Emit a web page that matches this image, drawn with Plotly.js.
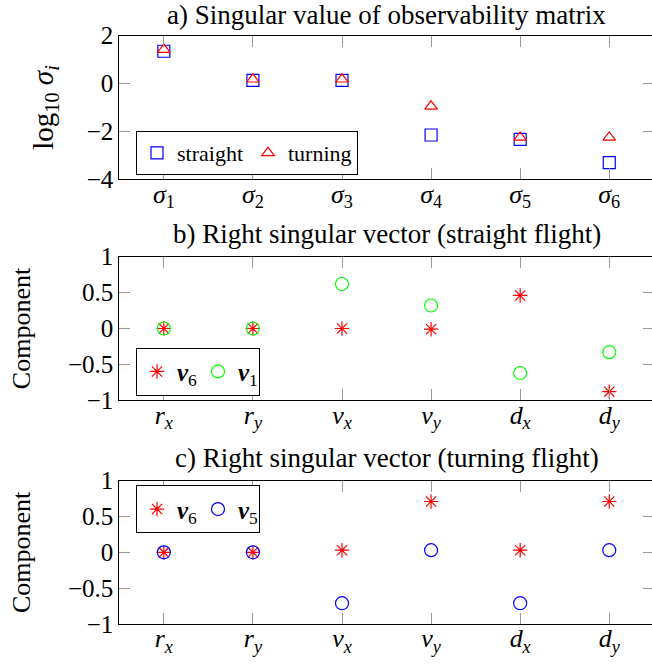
<!DOCTYPE html>
<html>
<head>
<meta charset="utf-8">
<script src="https://cdn.plot.ly/plotly-3.0.1.min.js"></script>
<style>
html,body{margin:0;padding:0;overflow:hidden;background:#fff;}
#chart{width:660px;height:664px;}
</style>
</head>
<body>
<div id="chart"></div>
<script>
// ---- data ----
var sigmaLabels = ['<i>σ</i><sub>1</sub>','<i>σ</i><sub>2</sub>','<i>σ</i><sub>3</sub>','<i>σ</i><sub>4</sub>','<i>σ</i><sub>5</sub>','<i>σ</i><sub>6</sub>'];
var logSigmaStraight = [1.35, 0.13, 0.13, -2.15, -2.33, -3.3];
var logSigmaTurning  = [1.42, 0.18, 0.18, -0.95, -2.25, -2.25];

var stateLabels = ['<i>r</i><sub><i>x</i></sub>','<i>r</i><sub><i>y</i></sub>','<i>v</i><sub><i>x</i></sub>','<i>v</i><sub><i>y</i></sub>','<i>d</i><sub><i>x</i></sub>','<i>d</i><sub><i>y</i></sub>'];
var straightV6 = [0, 0, 0, -0.01, 0.46, -0.88];
var straightV1 = [0, 0, 0.62, 0.32, -0.62, -0.33];
var turningV6  = [0, 0, 0.03, 0.71, 0.03, 0.71];
var turningV5  = [0, 0, -0.71, 0.03, -0.71, 0.03];

// ---- style ----
var W = 660, H = 664;
var FONT = 'Liberation Serif';
var xDom = [119.3 / W, 653.8 / W];
function yd(top, bottom) { return [1 - bottom / H, 1 - top / H]; }

function xAxis(anchor) {
  return {
    domain: xDom, anchor: anchor, type: 'category',
    range: [-0.5, 5.5], showgrid: false, zeroline: false,
    showline: true, linecolor: '#000', linewidth: 1, mirror: 'ticks',
    ticks: 'inside', ticklen: 11, tickcolor: '#999', tickwidth: 1,
    tickfont: {family: FONT, size: 26, color: '#000'},
    ticklabelstandoff: -9,
    automargin: false
  };
}
function yAxis(anchor, dom, range, dtick, title, tsize, standoff) {
  return {
    domain: dom, anchor: anchor, range: range, dtick: dtick, tick0: 0,
    showgrid: false, zeroline: false,
    showline: true, linecolor: '#000', linewidth: 1, mirror: 'ticks',
    ticks: 'inside', ticklen: 11, tickcolor: '#999', tickwidth: 1,
    tickfont: {family: FONT, size: 25, color: '#000'},
    title: {text: title, font: {family: FONT, size: tsize, color: '#000'}, standoff: standoff},
    automargin: false
  };
}

var traces = [
  {x: sigmaLabels, y: logSigmaStraight, xaxis: 'x', yaxis: 'y', type: 'scatter', mode: 'markers', name: 'straight',
   legend: 'legend', marker: {symbol: 'square-open', size: 12, color: '#0000ff', line: {width: 1.2, color: '#0000ff'}}},
  {x: sigmaLabels, y: logSigmaTurning, xaxis: 'x', yaxis: 'y', type: 'scatter', mode: 'markers', name: 'turning',
   legend: 'legend', marker: {symbol: 'triangle-up-open', size: 11, color: '#ff0000', line: {width: 1.2, color: '#ff0000'}}},

  {x: stateLabels, y: straightV6, xaxis: 'x2', yaxis: 'y2', type: 'scatter', mode: 'markers', name: '<b><i>v</i></b><sub>6</sub>',
   legend: 'legend2', marker: {symbol: 'asterisk-open', size: 12, color: '#ff0000', line: {width: 1.2, color: '#ff0000'}}},
  {x: stateLabels, y: straightV1, xaxis: 'x2', yaxis: 'y2', type: 'scatter', mode: 'markers', name: '<b><i>v</i></b><sub>1</sub>',
   legend: 'legend2', marker: {symbol: 'circle-open', size: 13, color: '#00ff00', line: {width: 1.2, color: '#00ff00'}}},

  {x: stateLabels, y: turningV6, xaxis: 'x3', yaxis: 'y3', type: 'scatter', mode: 'markers', name: '<b><i>v</i></b><sub>6</sub>',
   legend: 'legend3', marker: {symbol: 'asterisk-open', size: 12, color: '#ff0000', line: {width: 1.2, color: '#ff0000'}}},
  {x: stateLabels, y: turningV5, xaxis: 'x3', yaxis: 'y3', type: 'scatter', mode: 'markers', name: '<b><i>v</i></b><sub>5</sub>',
   legend: 'legend3', marker: {symbol: 'circle-open', size: 13, color: '#0000ff', line: {width: 1.2, color: '#0000ff'}}}
];

function legendBox(x, y, yanchor, ew, fs) {
  var o = {x: x, y: y, xanchor: 'left', yanchor: yanchor, xref: 'paper', yref: 'paper',
    orientation: 'h', bordercolor: '#000', borderwidth: 1, bgcolor: '#fff',
    itemwidth: 30, tracegroupgap: 0,
    font: {family: FONT, size: fs, color: '#000'}};
  if (ew) { o.entrywidth = ew; o.entrywidthmode = 'pixels'; }
  return o;
}

var layout = {
  width: W, height: H,
  margin: {l: 0, r: 0, t: 0, b: 0},
  paper_bgcolor: '#fff', plot_bgcolor: '#fff',
  showlegend: true,
  font: {family: FONT, color: '#000'},
  xaxis: xAxis('y'),
  yaxis: yAxis('x', yd(35.7, 179.3), [-4, 2], 2, 'log<sub>10</sub> <i>σ</i><sub><i>i</i></sub>', 29, 24),
  xaxis2: xAxis('y2'),
  yaxis2: yAxis('x2', yd(256.7, 400.3), [-1, 1], 0.5, 'Component', 26, 29),
  xaxis3: xAxis('y3'),
  yaxis3: yAxis('x3', yd(480.7, 624), [-1, 1], 0.5, 'Component', 26, 29),
  legend: legendBox(136 / W, 1 - 175 / H, 'bottom', 0, 22),
  legend2: legendBox(136 / W, 1 - 395.7 / H, 'bottom', 16, 25),
  legend3: legendBox(136 / W, 1 - 485.3 / H, 'top', 16, 25),
  annotations: [
    {text: 'a) Singular value of observability matrix', x: 386.5 / W, y: 1 - 15 / H, xref: 'paper', yref: 'paper',
     xanchor: 'center', yanchor: 'middle', showarrow: false, font: {family: FONT, size: 27, color: '#000'}},
    {text: 'b) Right singular vector (straight flight)', x: 386.5 / W, y: 1 - 234 / H, xref: 'paper', yref: 'paper',
     xanchor: 'center', yanchor: 'middle', showarrow: false, font: {family: FONT, size: 27, color: '#000'}},
    {text: 'c) Right singular vector (turning flight)', x: 386.5 / W, y: 1 - 458 / H, xref: 'paper', yref: 'paper',
     xanchor: 'center', yanchor: 'middle', showarrow: false, font: {family: FONT, size: 27, color: '#000'}}
  ]
};

Plotly.newPlot('chart', traces, layout, {displayModeBar: false, staticPlot: true});
</script>
</body>
</html>
